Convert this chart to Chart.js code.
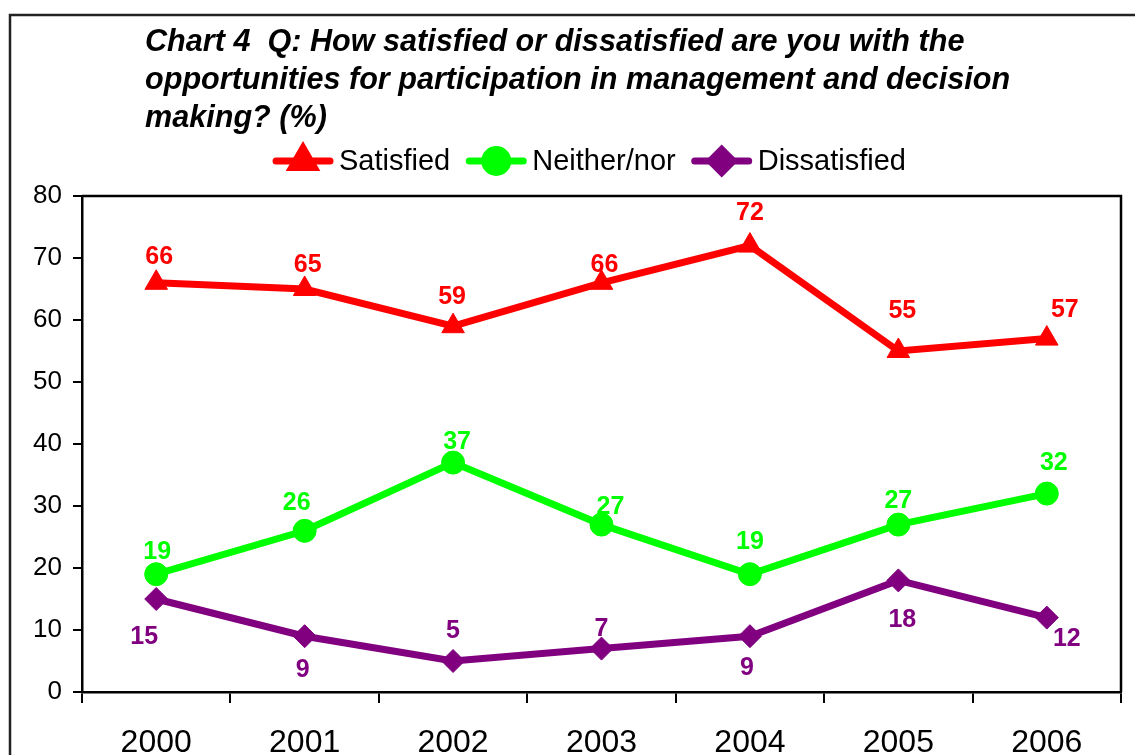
<!DOCTYPE html>
<html>
<head>
<meta charset="utf-8">
<script src="https://cdn.jsdelivr.net/npm/chart.js@4.4.1/dist/chart.umd.min.js"></script>
<style>
html,body{margin:0;padding:0;background:#fff;}
#wrap{width:1135px;height:755px;position:relative;}
</style>
</head>
<body>
<div id="wrap"><canvas id="c"></canvas></div>
<script>
// ---- data ----
const years = ['2000', '2001', '2002', '2003', '2004', '2005', '2006'];
const satisfied = [66, 65, 59, 66, 72, 55, 57];
const neitherNor = [19, 26, 37, 27, 19, 27, 32];
const dissatisfied = [15, 9, 5, 7, 9, 18, 12];
const yTicks = [0, 10, 20, 30, 40, 50, 60, 70, 80];
const seriesNames = ['Satisfied', 'Neither/nor', 'Dissatisfied'];
const titleLines = [
  'Chart 4  Q: How satisfied or dissatisfied are you with the',
  'opportunities for participation in management and decision',
  'making? (%)'
];

// ---- styles (label offsets in px) ----
const labelOffsets = [
  [[3,-26],[3,-24],[-1,-29],[3,-18],[0,-32],[4,-40],[18,-28]],
  [[1,-22],[-8,-28],[4,-20],[9,-17],[0,-32],[0,-23],[7,-30]],
  [[-12,38],[-2,34],[0,-30],[0,-19],[-3,32],[4,40],[20,22]]
];
const FONT = "'Liberation Sans', Arial, Helvetica, sans-serif";

const framePlugin = {
  id: 'framePlugin',
  beforeDraw(chart) {
    const ctx = chart.ctx;
    ctx.save();
    ctx.fillStyle = '#fff';
    ctx.fillRect(0, 0, chart.width, chart.height);
    // outer frame
    ctx.strokeStyle = '#222';
    ctx.lineWidth = 2.5;
    ctx.beginPath();
    ctx.moveTo(10, 760);
    ctx.lineTo(10, 15);
    ctx.lineTo(1140, 15);
    ctx.stroke();
    // title
    ctx.fillStyle = '#000';
    ctx.font = 'italic bold 30.6px ' + FONT;
    ctx.textAlign = 'left';
    ctx.textBaseline = 'alphabetic';
    const baselines = [51, 89, 127];
    titleLines.forEach((t, i) => ctx.fillText(t, 145, baselines[i]));
    // legend
    ctx.font = '29px ' + FONT;
    const segLen = 60, gapText = 6, gapItem = 16;
    const items = chart.data.datasets.map(ds => ({ds, w: segLen + gapText + ctx.measureText(ds.label).width}));
    const total = items.reduce((s, it) => s + it.w, 0) + gapItem * (items.length - 1);
    let x = 589.5 - total / 2;
    const ly = 161;
    items.forEach(it => {
      const ds = it.ds;
      ctx.strokeStyle = ds.borderColor;
      ctx.lineWidth = 7;
      ctx.lineCap = 'round';
      ctx.beginPath();
      ctx.moveTo(x + 3, ly);
      ctx.lineTo(x + segLen - 3, ly);
      ctx.stroke();
      ctx.fillStyle = ds.borderColor;
      Chart.helpers.drawPoint(ctx, {pointStyle: ds.pointStyle, rotation: 0, borderWidth: 1, radius: ds.pointRadius}, x + segLen / 2, ly);
      ctx.fill();
      ctx.fillStyle = '#000';
      ctx.textBaseline = 'middle';
      ctx.fillText(ds.label, x + segLen + gapText, ly + 1);
      x += it.w + gapItem;
    });
    ctx.restore();
  },
  afterDatasetsDraw(chart) {
    const ctx = chart.ctx;
    const a = chart.chartArea;
    ctx.save();
    // top and right border of plot area
    ctx.strokeStyle = '#000';
    ctx.lineWidth = 2.5;
    ctx.beginPath();
    ctx.moveTo(a.left, a.top);
    ctx.lineTo(a.right, a.top);
    ctx.lineTo(a.right, a.bottom);
    ctx.stroke();
    // data labels
    ctx.font = 'bold 25px ' + FONT;
    ctx.textAlign = 'center';
    ctx.textBaseline = 'middle';
    chart.data.datasets.forEach((ds, di) => {
      const meta = chart.getDatasetMeta(di);
      ctx.fillStyle = ds.borderColor;
      meta.data.forEach((pt, i) => {
        const off = labelOffsets[di][i];
        ctx.fillText(String(ds.data[i]), pt.x + off[0], pt.y + off[1]);
      });
    });
    ctx.restore();
  }
};

const colors = ['#FF0000', '#00FF00', '#800080'];
const styles = ['triangle', 'circle', 'rectRot'];
const radii = [13, 11.5, 11.5];
const seriesData = [satisfied, neitherNor, dissatisfied];

new Chart(document.getElementById('c'), {
  type: 'line',
  data: {
    labels: years,
    datasets: seriesData.map((d, i) => ({
      label: seriesNames[i],
      data: d,
      borderColor: colors[i],
      backgroundColor: colors[i],
      borderWidth: 7,
      pointStyle: styles[i],
      pointRadius: radii[i],
      pointBorderWidth: 1,
      pointBackgroundColor: colors[i],
      pointBorderColor: colors[i],
      tension: 0,
      order: 3 - i
    }))
  },
  plugins: [framePlugin],
  options: {
    responsive: true,
    maintainAspectRatio: false,
    animation: false,
    devicePixelRatio: 1,
    layout: {padding: {top: 196, right: 14, bottom: 0, left: 0}},
    plugins: {legend: {display: false}, title: {display: false}, tooltip: {enabled: false}},
    scales: {
      x: {
        type: 'category',
        offset: true,
        grid: {offset: true, drawOnChartArea: false, drawTicks: true, tickLength: 11, color: '#000', lineWidth: 2},
        border: {display: true, color: '#000', width: 2.5},
        ticks: {color: '#000', font: {family: FONT, size: 32}, padding: 21, autoSkip: false, maxRotation: 0},
        afterFit(s) { s.height = 63; }
      },
      y: {
        min: 0, max: 80,
        afterBuildTicks(s) { s.ticks = yTicks.map(v => ({value: v})); },
        grid: {drawOnChartArea: false, drawTicks: true, tickLength: 9, color: '#000', lineWidth: 2},
        border: {display: true, color: '#000', width: 2.5},
        ticks: {color: '#000', font: {family: FONT, size: 26}, padding: 11},
        afterFit(s) { s.width = 82; }
      }
    }
  }
});
</script>
</body>
</html>
